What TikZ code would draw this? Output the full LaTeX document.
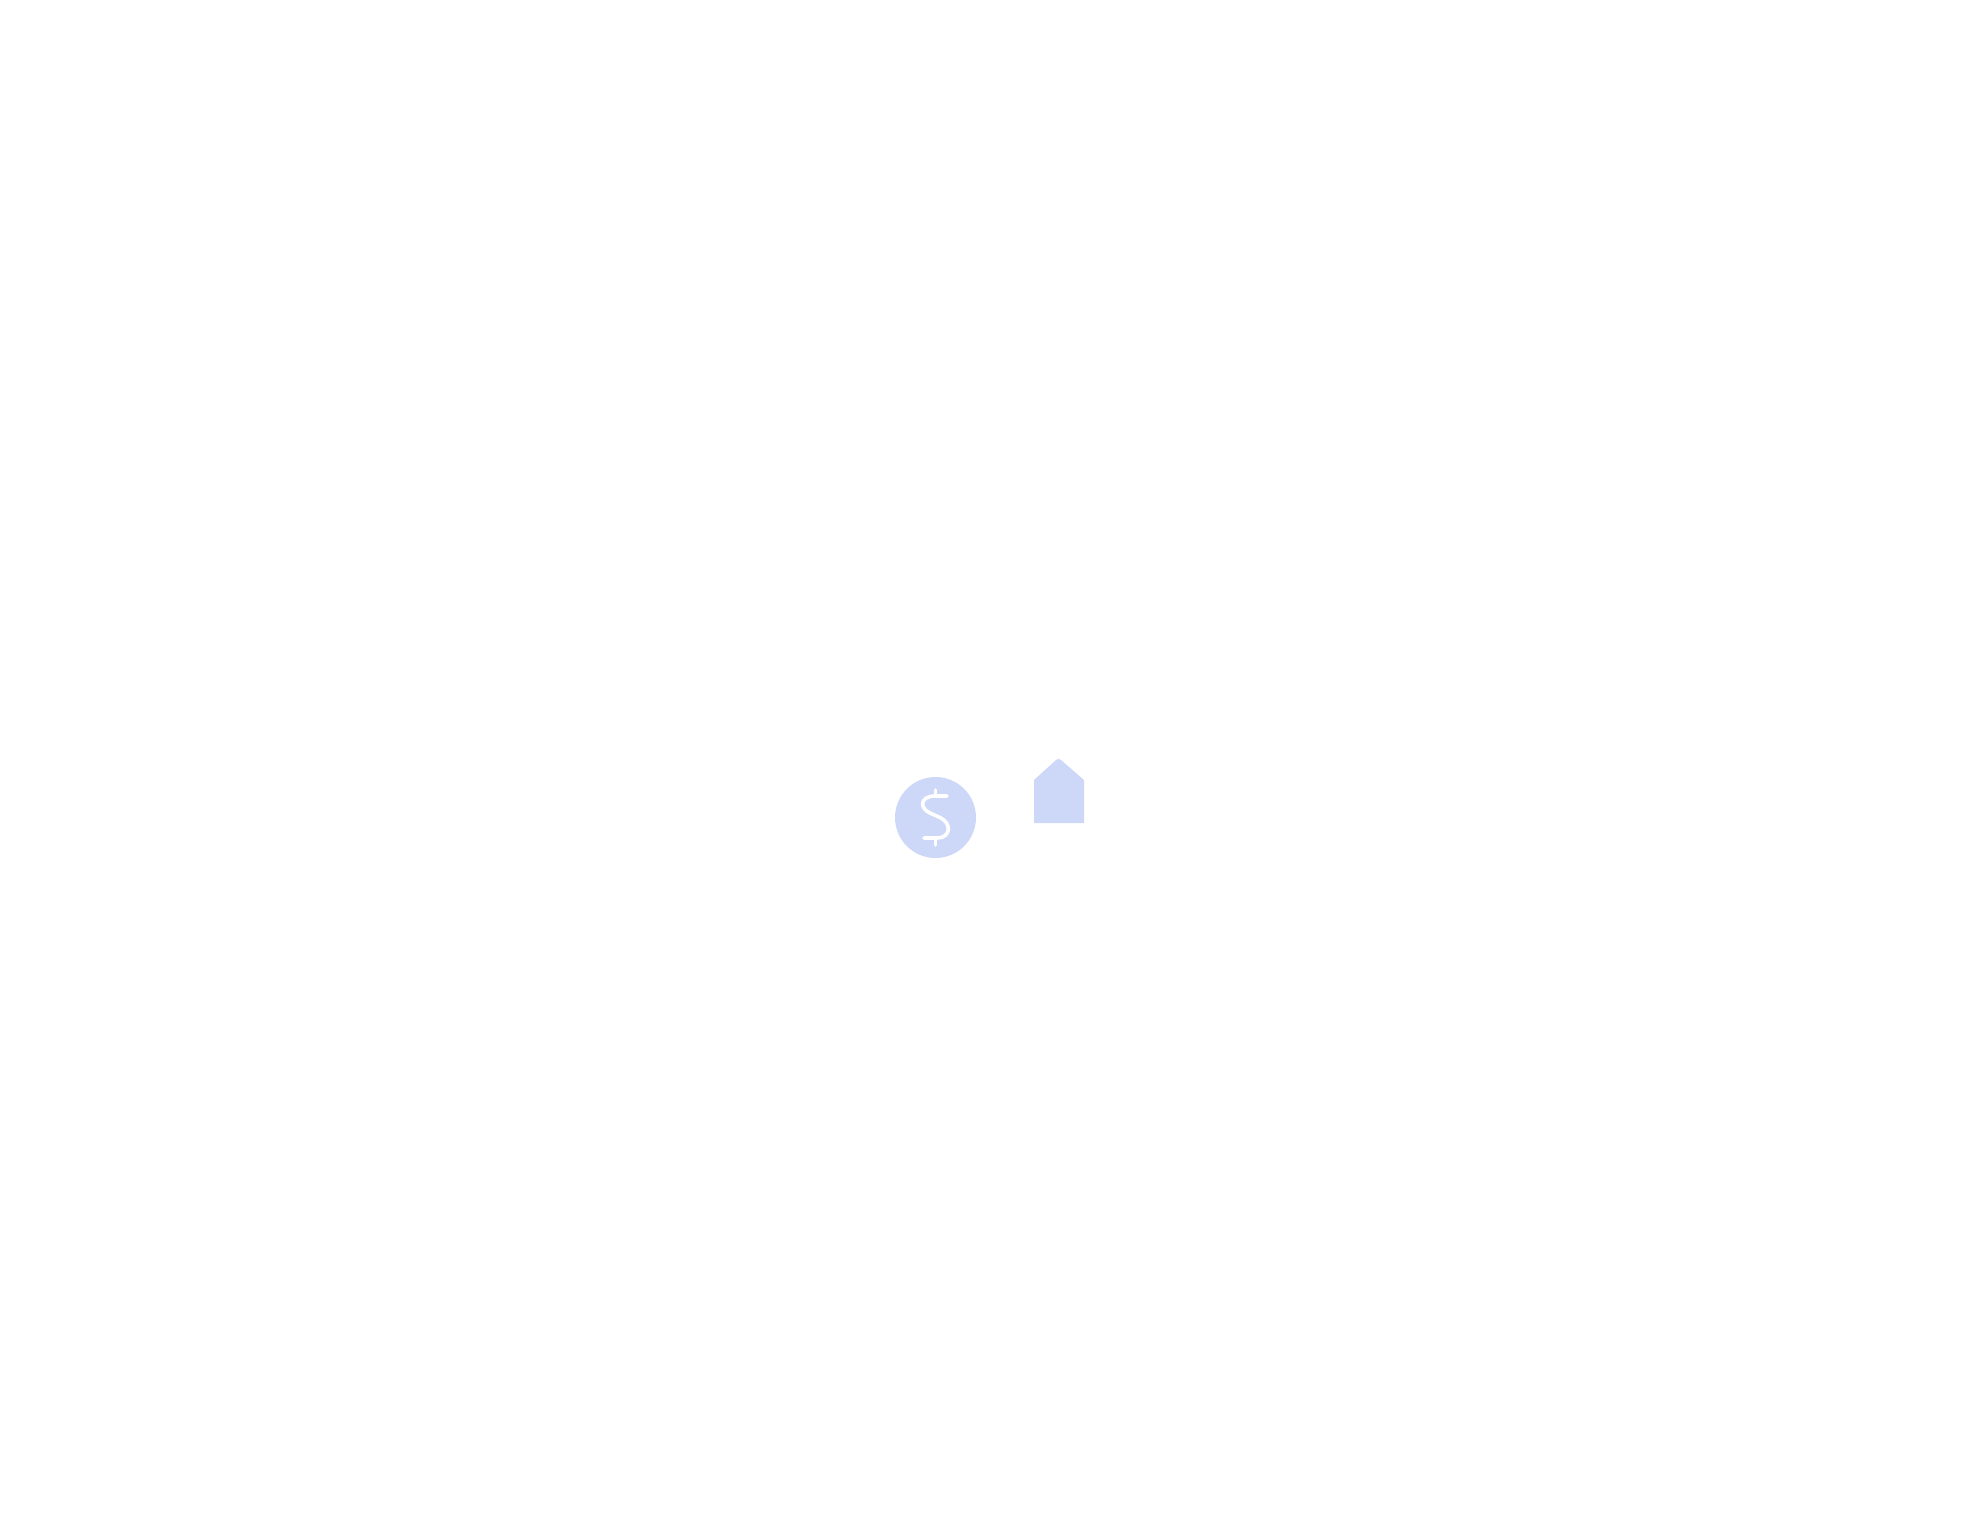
\documentclass[tikz,border=0pt]{standalone}
\usetikzlibrary{calc,positioning}
\definecolor{iconblue}{RGB}{205,216,249}

\begin{document}
\begin{tikzpicture}[x=0.5pt, y=-0.5pt]
    % Same size as the page, one unit is one pixel
    \useasboundingbox (0,0) rectangle (1986,1523);
    \def\cx{935.5}
    \def\cy{817.5}
    \def\cr{20.25pt}

    % Coin with the dollar sign
    \node[circle, fill=iconblue, minimum size=2*\cr, inner sep=0pt] (coin) at (\cx,\cy) {};
    \draw[white, line width=1.8pt, line cap=round, line join=round]
      (947,796) -- (935,796) .. controls (920,796) and (919,808) .. (930,813)
      -- (940,817.5) .. controls (952,823) and (951,838) .. (937,838) -- (924,838);
    \draw[white, line width=1.8pt, line cap=round] (935.5,790) -- (935.5,796);
    \draw[white, line width=1.8pt, line cap=round] (935.5,838) -- (935.5,845);

    % House shape with a slightly blunt roof
    \fill[iconblue] (1034,780) -- (1056,760) .. controls (1058,758.5) and (1059,758.5) .. (1061,760)
      -- (1084,780) -- (1084,823) -- (1034,823) -- cycle;
\end{tikzpicture}
\end{document}
